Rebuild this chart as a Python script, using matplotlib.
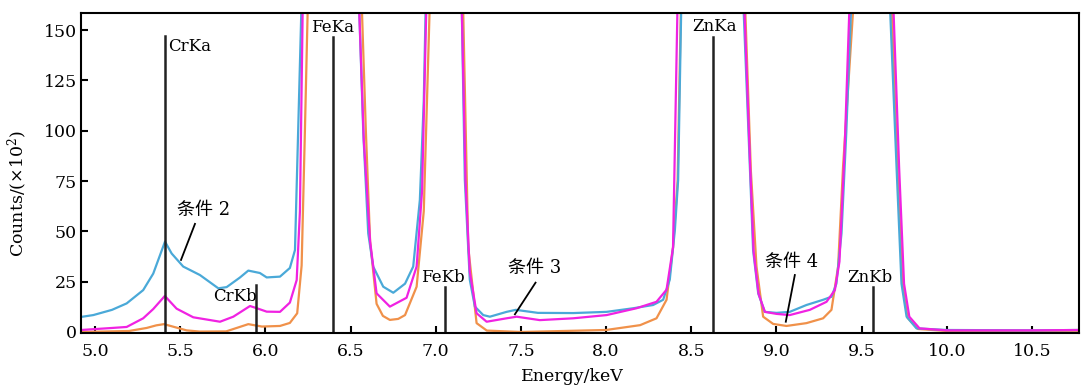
import numpy as np
import matplotlib
matplotlib.use("Agg")
import matplotlib.pyplot as plt

plt.rcParams['font.family'] = ['DejaVu Serif', 'Noto Sans CJK SC']
plt.rcParams['mathtext.fontset'] = 'dejavuserif'

# spectra (energy in keV, counts in 1e2); peaks go off-scale
blue_x = [4.92, 4.99, 5.10, 5.186, 5.283, 5.342, 5.411, 5.45, 5.518, 5.616, 5.724, 5.773, 5.85, 5.90,
          5.968, 6.008, 6.086, 6.144, 6.174, 6.193, 6.213, 6.40, 6.549, 6.575, 6.604, 6.633, 6.692,
          6.751, 6.82, 6.868, 6.907, 6.93, 6.942, 7.06, 7.152, 7.171, 7.20, 7.23, 7.279, 7.318, 7.416,
          7.47, 7.60, 7.807, 8.003, 8.16, 8.276, 8.335, 8.374, 8.404, 8.423, 8.62, 8.805, 8.844, 8.863,
          8.893, 8.932, 9.0, 9.078, 9.176, 9.274, 9.323, 9.352, 9.382, 9.41, 9.44, 9.56, 9.665, 9.705,
          9.734, 9.764, 9.822, 10.0, 10.5, 10.78]
blue_y = [7.5, 8.4, 11, 14.2, 20.8, 29, 44.9, 39, 32.5, 28.3, 21.7, 22.3, 27, 30.5,
          29.3, 27.1, 27.5, 31.8, 40.7, 101, 165, 1000, 165, 99, 49, 32.5, 22.5,
          19.5, 24, 32.5, 65.6, 115, 165, 1000, 165, 75.5, 26, 12.6, 8.4, 7.6, 10,
          11, 9.5, 9.4, 10, 11.8, 13.4, 16, 26, 50.7, 75.5, 1000, 165, 82, 40.7,
          19.2, 10, 9.5, 10, 13.4, 16, 17.5, 24, 49, 99, 165, 1000, 165, 82,
          24, 7.6, 1.8, 1.0, 0.8, 1.0]

magenta_x = [4.92, 5.10, 5.186, 5.283, 5.342, 5.41, 5.479, 5.577, 5.734, 5.812, 5.91, 5.95, 6.008,
             6.086, 6.144, 6.184, 6.203, 6.22, 6.40, 6.549, 6.578, 6.615, 6.653, 6.731, 6.829, 6.888,
             6.92, 6.946, 7.06, 7.152, 7.175, 7.20, 7.24, 7.299, 7.416, 7.475, 7.611, 7.807, 8.003,
             8.179, 8.296, 8.355, 8.393, 8.42, 8.62, 8.81, 8.846, 8.866, 8.895, 8.932, 9.0, 9.078,
             9.196, 9.294, 9.343, 9.37, 9.40, 9.43, 9.56, 9.685, 9.72, 9.749, 9.78, 9.84, 10.0, 10.5,
             10.78]
magenta_y = [1, 2, 2.5, 6.8, 11.4, 17.9, 11.6, 7.3, 5.1, 7.6, 12.9, 11.8, 10.1,
             10, 14.6, 25.8, 60, 165, 1000, 165, 95, 45, 19.2, 12.6, 17, 32.5,
             70, 165, 1000, 165, 75, 30, 9.3, 5.1, 6.8, 7.6, 5.9, 6.8, 8.4,
             11.8, 15, 21, 42, 165, 1000, 165, 82, 40, 19, 10, 9, 8.4,
             11, 15, 20.8, 35, 90, 165, 1000, 165, 82, 24, 7.6, 1.8, 0.8, 0.8,
             1.0]

orange_x = [4.92, 5.20, 5.303, 5.36, 5.405, 5.478, 5.538, 5.616, 5.77, 5.90, 5.98, 6.086, 6.144,
            6.187, 6.213, 6.232, 6.25, 6.40, 6.565, 6.59, 6.615, 6.653, 6.69, 6.731, 6.78, 6.82,
            6.888, 6.93, 6.966, 7.06, 7.16, 7.191, 7.24, 7.30, 7.50, 8.0, 8.2, 8.296, 8.355, 8.393,
            8.42, 8.44, 8.62, 8.815, 8.85, 8.883, 8.922, 8.981, 9.059, 9.176, 9.274, 9.323, 9.362,
            9.391, 9.454, 9.56, 9.675, 9.71, 9.74, 9.77, 9.83, 10.0, 10.5, 10.78]
orange_y = [0, 0.5, 2, 3.3, 3.9, 2.2, 0.8, 0.2, 0.3, 3.9, 2.7, 3, 4.5,
            9.3, 33, 99, 165, 1000, 165, 100, 45, 14, 8, 6, 6.5, 8.4,
            22.5, 60, 165, 1000, 165, 42, 4.4, 0.7, 0, 1, 3.4, 6.8, 16, 42,
            75, 165, 1000, 165, 80, 32.5, 7.6, 4, 3, 4.4, 6.8, 11, 32.5,
            82, 165, 1000, 165, 82, 24, 7, 1.5, 0.5, 0.5, 0.6]

# characteristic lines: name, energy, height
line_names = ["CrKa", "CrKb", "FeKa", "FeKb", "ZnKa", "ZnKb"]
line_energy = [5.411, 5.943, 6.395, 7.052, 8.625, 9.564]
line_height = [147, 23.3, 146.5, 22.5, 146.5, 22.5]

fig = plt.figure(figsize=(10.83, 3.86), dpi=100)
ax = fig.add_axes([81/1083, 1 - 333/386, (1079 - 81)/1083, (333 - 13)/386])

ax.plot(orange_x, orange_y, color="#f0914a", lw=1.6)
ax.plot(blue_x, blue_y, color="#4aa9d8", lw=1.6)
ax.plot(magenta_x, magenta_y, color="#f022e2", lw=1.6)

for name, e, h in zip(line_names, line_energy, line_height):
    ax.plot([e, e], [-0.5, h], color="#222222", lw=1.8)

ax.text(5.43, 142, "CrKa", fontsize=12, ha="left", va="center")
ax.text(5.948, 17.4, "CrKb", fontsize=12, ha="right", va="center")
ax.text(6.395, 151, "FeKa", fontsize=12, ha="center", va="center")
ax.text(7.044, 27.3, "FeKb", fontsize=12, ha="center", va="center")
ax.text(8.639, 151.5, "ZnKa", fontsize=12, ha="center", va="center")
ax.text(9.548, 27.3, "ZnKb", fontsize=12, ha="center", va="center")

# condition labels with pointers
ax.text(5.64, 60.6, "条件 2", fontsize=13, ha="center", va="center")
ax.plot([5.587, 5.505], [53.7, 35.8], color="black", lw=1.3)
ax.text(7.58, 31.8, "条件 3", fontsize=13, ha="center", va="center")
ax.plot([7.586, 7.465], [24.5, 8.8], color="black", lw=1.3)
ax.text(9.09, 34.8, "条件 4", fontsize=13, ha="center", va="center")
ax.plot([9.108, 9.055], [28.3, 5.1], color="black", lw=1.3)

ax.set_xlim(4.918, 10.776)
ax.set_ylim(-0.5, 158.45)
ax.set_xticks(np.arange(5.0, 10.6, 0.5))
ax.set_yticks(np.arange(0, 151, 25))
ax.tick_params(axis="x", direction="in", length=5, width=1.5, labelsize=12.5, pad=7)
ax.tick_params(axis="y", direction="in", length=5, width=1.5, labelsize=12.5, pad=3)
for s in ax.spines.values():
    s.set_linewidth(1.5)

fig.text(18/1083, 0.5, "Counts/(×10$^2$)", rotation=90, fontsize=12.5, ha="center", va="center")
fig.text(572/1083, 1 - 368/386, "Energy/keV", fontsize=12.5, ha="center", va="top")

fig.savefig("out.png", dpi=100)
